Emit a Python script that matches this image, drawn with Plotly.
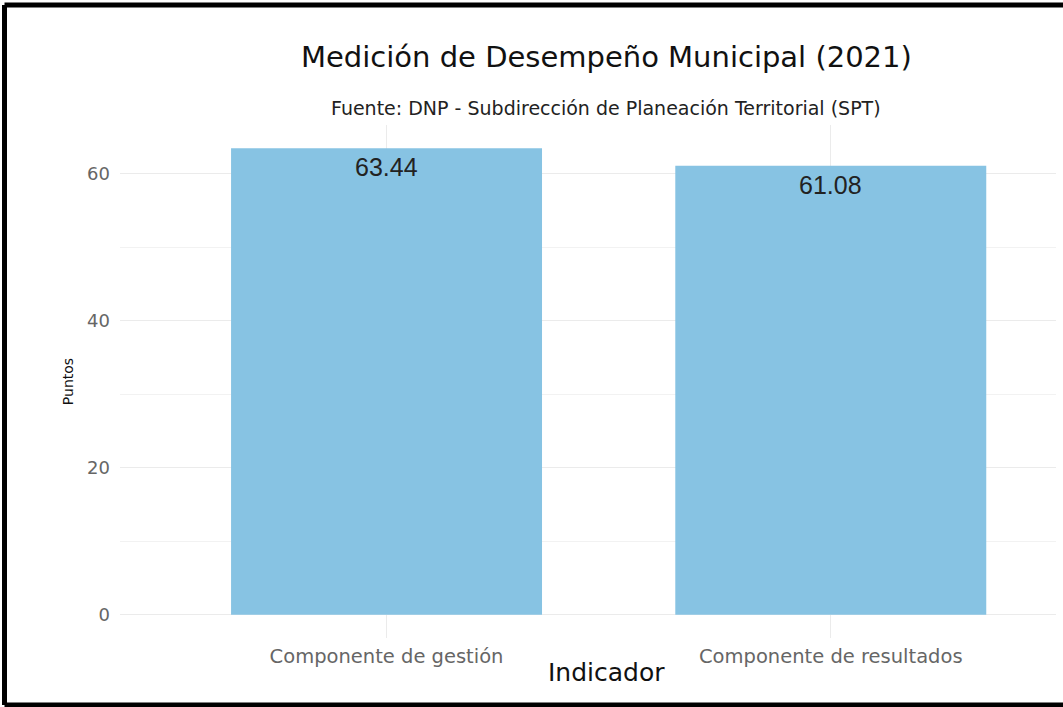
import plotly.graph_objects as go

categorias = ["Componente de gestión", "Componente de resultados"]
puntos = [63.44, 61.08]
etiquetas = ["63.44", "61.08"]

W, H = 1063, 707
L, R, T, B = 120, 7, 125, 69
pw, ph = W - L - R, H - T - B
cx = (606 - L) / pw  # centro del panel original (recortado a la derecha)

fig = go.Figure()
fig.add_trace(go.Bar(
    x=categorias, y=puntos, width=0.7,
    marker=dict(color="#87c3e3", line=dict(width=0)),
    hoverinfo="x+y", showlegend=False,
))

for c, v, t in zip(categorias, puntos, etiquetas):
    fig.add_annotation(x=c, y=v, text=t, showarrow=False, yanchor="top", yshift=-3,
                       font=dict(family="Liberation Sans, Arial", size=25, color="#222222"))

fig.add_annotation(xref="paper", yref="paper", x=cx, y=1 + (T - 57) / ph,
                   text="Medición de Desempeño Municipal (2021)", showarrow=False, yanchor="middle",
                   font=dict(family="DejaVu Sans", size=29, color="#111111"))
fig.add_annotation(xref="paper", yref="paper", x=cx, y=1 + (T - 108) / ph,
                   text="Fuente: DNP - Subdirección de Planeación Territorial (SPT)", showarrow=False,
                   yanchor="middle", font=dict(family="DejaVu Sans", size=19, color="#222222"))
fig.add_annotation(xref="paper", yref="paper", x=cx, y=-(672 - (H - B)) / ph,
                   text="Indicador", showarrow=False, yanchor="middle",
                   font=dict(family="DejaVu Sans", size=25, color="#111111"))

# marco negro de la captura (arriba, izquierda y abajo)
xl, xr = (4.5 - L) / pw, (W + 20 - L) / pw
yb, yt = (H - B - 705) / ph, (H - B - 5) / ph
for x0, y0, x1, y1 in [(xl, yt, xr, yt), (xl, yb, xl, yt), (xl, yb, xr, yb)]:
    fig.add_shape(type="line", xref="paper", yref="paper", x0=x0, y0=y0, x1=x1, y1=y1,
                  line=dict(color="black", width=5), layer="above")

fig.update_layout(
    width=W, height=H,
    margin=dict(l=L, r=R, t=T, b=B),
    paper_bgcolor="white", plot_bgcolor="white",
    font=dict(family="DejaVu Sans", color="#222222"),
    xaxis=dict(
        range=[-0.6, 1.507], showgrid=True, gridcolor="#ebebeb", gridwidth=1,
        zeroline=False, showline=False, ticks="", ticklabelstandoff=4,
        tickfont=dict(size=19.5, color="#666666"),
    ),
    yaxis=dict(
        range=[-3.17, 66.61], tickvals=[0, 20, 40, 60], showgrid=True, gridcolor="#ebebeb",
        zeroline=False, showline=False, ticks="", ticklabelstandoff=9,
        minor=dict(tickvals=[10, 30, 50], showgrid=True, gridcolor="#f2f2f2"),
        tickfont=dict(size=18, color="#666666"),
        title=dict(text="Puntos", font=dict(size=14, color="#111111"), standoff=10),
    ),
)

fig.write_html("out.html", config={"displayModeBar": False},
               post_script="document.body.style.margin='0';")
